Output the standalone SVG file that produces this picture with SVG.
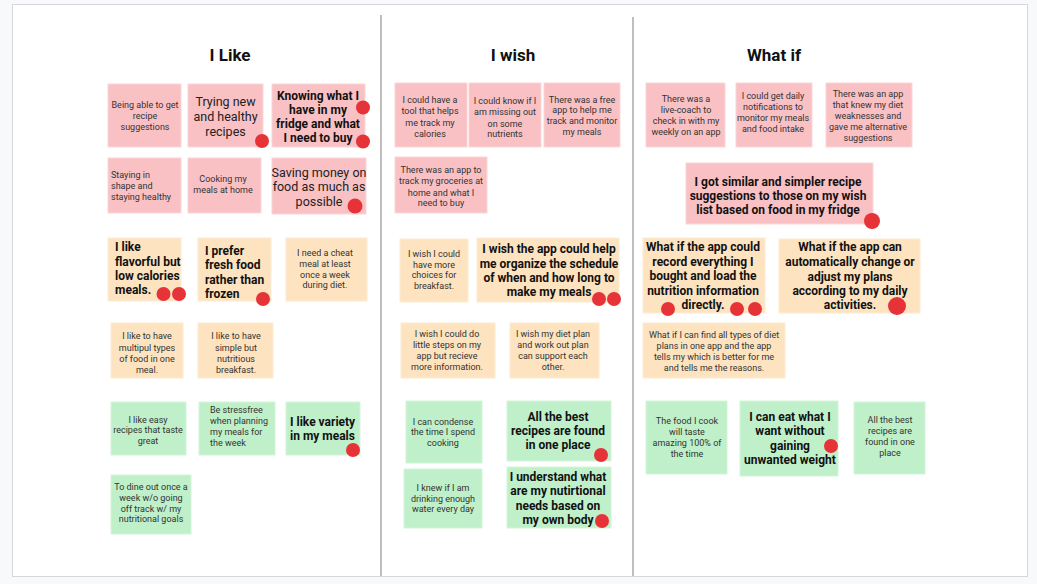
<svg xmlns="http://www.w3.org/2000/svg" width="1037" height="584" viewBox="0 0 1037 584">
<style>
.card{fill:#fff;stroke:#d5d7db;stroke-width:1}
.div{stroke:#a8a8a8;stroke-width:1.5}
.h{font-family:Roboto,"Liberation Sans",sans-serif;font-weight:700;font-size:17px;fill:#111;text-anchor:middle}
.p{fill:#f9c1c4;stroke:#fbd6d8;stroke-width:1}
.o{fill:#fde3bf;stroke:#feecd4;stroke-width:1}
.g{fill:#bff0c9;stroke:#d3f5da;stroke-width:1}
text{font-family:Roboto,"Liberation Sans",sans-serif}
.s{font-size:9px;fill:#333;text-anchor:middle}
.sl{font-size:9px;fill:#333}
.m{font-size:12.5px;fill:#222;text-anchor:middle}
.b{font-size:12px;font-weight:700;fill:#111;text-anchor:middle}
.bl{font-size:12px;font-weight:700;fill:#111}
.dot{fill:#e63338}
</style>
<rect x="0" y="0" width="1037" height="584" fill="#f8f9fa"/>
<rect class="card" x="12.5" y="4.5" width="1015" height="572"/>
<line class="div" x1="381" y1="15" x2="381" y2="576"/>
<line class="div" x1="633" y1="17" x2="633" y2="576"/>
<text class="h" x="230" y="61">I Like</text>
<text class="h" x="513" y="61">I wish</text>
<text class="h" x="774" y="61">What if</text>

<g id="like1"><rect class="p" x="108" y="84" width="73" height="63"/><text class="s"><tspan x="145" y="108">Being able to get</tspan><tspan x="145" y="119">recipe</tspan><tspan x="145" y="130">suggestions</tspan></text></g>
<g id="like2"><rect class="p" x="188" y="84" width="75" height="63"/><text class="m"><tspan x="225.5" y="106">Trying new</tspan><tspan x="225.5" y="121">and healthy</tspan><tspan x="225.5" y="135.5">recipes</tspan></text></g>
<g id="like3"><rect class="p" x="272" y="84" width="93" height="63"/><text class="b"><tspan x="318" y="100">Knowing what I</tspan><tspan x="318" y="114">have in my</tspan><tspan x="318" y="128">fridge and what</tspan><tspan x="318" y="142">I need to buy</tspan></text></g>
<g id="like4"><rect class="p" x="108" y="158" width="73" height="55"/><text class="sl"><tspan x="111" y="177.5">Staying in</tspan><tspan x="111" y="189">shape and</tspan><tspan x="111" y="200">staying healthy</tspan></text></g>
<g id="like5"><rect class="p" x="188" y="158" width="73" height="55"/><text class="s"><tspan x="223" y="182">Cooking my</tspan><tspan x="223" y="193">meals at home</tspan></text></g>
<g id="like6"><rect class="p" x="272" y="158" width="94" height="56"/><text class="m"><tspan x="319" y="177">Saving money on</tspan><tspan x="319" y="191">food as much as</tspan><tspan x="319" y="205.5">possible</tspan></text></g>
<g id="like7"><rect class="o" x="108" y="238" width="73" height="63"/><text class="bl"><tspan x="115" y="251">I like</tspan><tspan x="115" y="265.5">flavorful but</tspan><tspan x="115" y="279.5">low calories</tspan><tspan x="115" y="294">meals.</tspan></text></g>
<g id="like8"><rect class="o" x="198" y="238" width="73" height="63"/><text class="bl"><tspan x="205" y="255">I prefer</tspan><tspan x="205" y="269">fresh food</tspan><tspan x="205" y="283.5">rather than</tspan><tspan x="205" y="297.5">frozen</tspan></text></g>
<g id="like9"><rect class="o" x="286" y="238" width="81" height="63"/><text class="s"><tspan x="325" y="256">I need a cheat</tspan><tspan x="325" y="266.5">meal at least</tspan><tspan x="325" y="277.5">once a week</tspan><tspan x="325" y="288">during diet.</tspan></text></g>
<g id="like10"><rect class="o" x="111" y="323" width="72" height="55"/><text class="s"><tspan x="147" y="339">I like to have</tspan><tspan x="147" y="350.5">multipul types</tspan><tspan x="147" y="361.5">of food in one</tspan><tspan x="147" y="372.5">meal.</tspan></text></g>
<g id="like11"><rect class="o" x="198" y="323" width="75" height="55"/><text class="s"><tspan x="236" y="339">I like to have</tspan><tspan x="236" y="350.5">simple but</tspan><tspan x="236" y="361.5">nutritious</tspan><tspan x="236" y="372.5">breakfast.</tspan></text></g>
<g id="like12"><rect class="g" x="111" y="402" width="75" height="53"/><text class="s"><tspan x="148" y="422.5">I like easy</tspan><tspan x="148" y="433">recipes that taste</tspan><tspan x="148" y="444">great</tspan></text></g>
<g id="like13"><rect class="g" x="199" y="402" width="76" height="53"/><text class="sl"><tspan x="210" y="413">Be stressfree</tspan><tspan x="210" y="424">when planning</tspan><tspan x="210" y="435">my meals for</tspan><tspan x="210" y="446">the week</tspan></text></g>
<g id="like14"><rect class="g" x="286" y="402" width="74" height="53"/><text class="bl"><tspan x="290" y="426">I like variety</tspan><tspan x="290" y="439.5">in my meals</tspan></text></g>
<g id="like15"><rect class="g" x="111" y="475" width="80" height="59"/><text class="s"><tspan x="151" y="490">To dine out once a</tspan><tspan x="151" y="500.5">week w/o going</tspan><tspan x="151" y="511.5">off track w/ my</tspan><tspan x="151" y="522">nutritional goals</tspan></text></g>

<g id="wish1"><rect class="p" x="395" y="83" width="72" height="64"/><text class="s"><tspan x="430" y="103">I could have a</tspan><tspan x="430" y="114">tool that helps</tspan><tspan x="430" y="125.5">me track my</tspan><tspan x="430" y="136.5">calories</tspan></text></g>
<g id="wish2"><rect class="p" x="469" y="83" width="72" height="64"/><text class="s"><tspan x="505" y="104">I could know if I</tspan><tspan x="505" y="115">am missing out</tspan><tspan x="505" y="126.5">on some</tspan><tspan x="505" y="137">nutrients</tspan></text></g>
<g id="wish3"><rect class="p" x="544" y="83" width="76" height="64"/><text class="s"><tspan x="582" y="102.5">There was a free</tspan><tspan x="582" y="113">app to help me</tspan><tspan x="582" y="124">track and monitor</tspan><tspan x="582" y="135">my meals</tspan></text></g>
<g id="wish4"><rect class="p" x="395" y="157" width="92" height="56"/><text class="s"><tspan x="441" y="173">There was an app to</tspan><tspan x="441" y="184">track my groceries at</tspan><tspan x="441" y="195.5">home and what I</tspan><tspan x="441" y="206">need to buy</tspan></text></g>
<g id="wish5"><rect class="o" x="400" y="239" width="68" height="63"/><text class="s"><tspan x="434" y="257">I wish I could</tspan><tspan x="434" y="267.5">have more</tspan><tspan x="434" y="278">choices for</tspan><tspan x="434" y="289">breakfast.</tspan></text></g>
<g id="wish6"><rect class="o" x="477" y="238" width="142" height="64"/><text class="b"><tspan x="549" y="252.5">I wish the app could help</tspan><tspan x="549" y="267.5">me organize the schedule</tspan><tspan x="549" y="281.5">of when and how long to</tspan><tspan x="549" y="296">make my meals</tspan></text></g>
<g id="wish7"><rect class="o" x="401" y="323" width="94" height="55"/><text class="s"><tspan x="447" y="337">I wish I could do</tspan><tspan x="447" y="348">little steps on my</tspan><tspan x="447" y="359">app but recieve</tspan><tspan x="447" y="370">more information.</tspan></text></g>
<g id="wish8"><rect class="o" x="510" y="323" width="89" height="55"/><text class="s"><tspan x="553" y="337">I wish my diet plan</tspan><tspan x="553" y="348">and work out plan</tspan><tspan x="553" y="359">can support each</tspan><tspan x="553" y="370">other.</tspan></text></g>
<g id="wish9"><rect class="g" x="406" y="401" width="76" height="62"/><text class="s"><tspan x="443" y="425">I can condense</tspan><tspan x="443" y="435">the time I spend</tspan><tspan x="443" y="446">cooking</tspan></text></g>
<g id="wish10"><rect class="g" x="507" y="401" width="104" height="60"/><text class="b"><tspan x="558" y="420.5">All the best</tspan><tspan x="558" y="434.5">recipes are found</tspan><tspan x="558" y="448.5">in one place</tspan></text></g>
<g id="wish11"><rect class="g" x="404" y="469" width="78" height="59"/><text class="s"><tspan x="443" y="491">I knew if I am</tspan><tspan x="443" y="501.5">drinking enough</tspan><tspan x="443" y="511.5">water every day</tspan></text></g>
<g id="wish12"><rect class="g" x="507" y="467" width="104" height="61"/><text class="b"><tspan x="558" y="480.5">I understand what</tspan><tspan x="558" y="494.5">are my nutirtional</tspan><tspan x="558" y="509.5">needs based on</tspan><tspan x="558" y="523.5">my own body</tspan></text></g>

<g id="whatif1"><rect class="p" x="646" y="83" width="79" height="64"/><text class="s"><tspan x="686" y="102">There was a</tspan><tspan x="686" y="112.5">live-coach to</tspan><tspan x="686" y="124">check in with my</tspan><tspan x="686" y="135">weekly on an app</tspan></text></g>
<g id="whatif2"><rect class="p" x="736" y="83" width="76" height="64"/><text class="s"><tspan x="773" y="99">I could get daily</tspan><tspan x="773" y="110">notifications to</tspan><tspan x="773" y="120.5">monitor my meals</tspan><tspan x="773" y="131.5">and food intake</tspan></text></g>
<g id="whatif3"><rect class="p" x="826" y="83" width="86" height="64"/><text class="s"><tspan x="868" y="97">There was an app</tspan><tspan x="868" y="108">that knew my diet</tspan><tspan x="868" y="119">weaknesses and</tspan><tspan x="868" y="130">gave me alternative</tspan><tspan x="868" y="140.5">suggestions</tspan></text></g>
<g id="whatif4"><rect class="p" x="686" y="163" width="187" height="61"/><text class="b"><tspan x="778" y="186">I got similar and simpler recipe</tspan><tspan x="778" y="199.5">suggestions to those on my wish</tspan><tspan x="778" y="213.5">list based on food in my fridge</tspan></text></g>
<g id="whatif5"><rect class="o" x="643" y="238" width="122" height="75"/><text class="b"><tspan x="703" y="251">What if the app could</tspan><tspan x="703" y="266">record everything I</tspan><tspan x="703" y="280">bought and load the</tspan><tspan x="703" y="295">nutrition information</tspan><tspan x="703" y="308.5">directly.</tspan></text></g>
<g id="whatif6"><rect class="o" x="779" y="239" width="141" height="74"/><text class="b"><tspan x="850" y="251">What if the app can</tspan><tspan x="850" y="266">automatically change or</tspan><tspan x="850" y="280.5">adjust my plans</tspan><tspan x="850" y="295">according to my daily</tspan><tspan x="850" y="309">activities.</tspan></text></g>
<g id="whatif7"><rect class="o" x="643" y="323" width="142" height="55"/><text class="s"><tspan x="714" y="338">What if I can find all types of diet</tspan><tspan x="714" y="349">plans in one app and the app</tspan><tspan x="714" y="360">tells my which is better for me</tspan><tspan x="714" y="371">and tells me the reasons.</tspan></text></g>
<g id="whatif8"><rect class="g" x="646" y="401" width="81" height="73"/><text class="s"><tspan x="687" y="424">The food I cook</tspan><tspan x="687" y="435">will taste</tspan><tspan x="687" y="446">amazing 100% of</tspan><tspan x="687" y="456.5">the time</tspan></text></g>
<g id="whatif9"><rect class="g" x="740" y="401" width="98" height="75"/><text class="b"><tspan x="790" y="420.5">I can eat what I</tspan><tspan x="790" y="435">want without</tspan><tspan x="790" y="449.5">gaining</tspan><tspan x="790" y="464">unwanted weight</tspan></text></g>
<g id="whatif10"><rect class="g" x="854" y="402" width="71" height="72"/><text class="s"><tspan x="890" y="423">All the best</tspan><tspan x="890" y="434">recipes are</tspan><tspan x="890" y="445">found in one</tspan><tspan x="890" y="455.5">place</tspan></text></g>

<g id="votes">
<circle class="dot" cx="262" cy="141" r="7"/>
<circle class="dot" cx="363" cy="107.5" r="7"/>
<circle class="dot" cx="363" cy="141.5" r="7"/>
<circle class="dot" cx="355" cy="206" r="7.5"/>
<circle class="dot" cx="163.5" cy="294" r="7"/>
<circle class="dot" cx="179" cy="294" r="7"/>
<circle class="dot" cx="263" cy="299" r="7"/>
<circle class="dot" cx="353" cy="450" r="7"/>
<circle class="dot" cx="599" cy="299" r="7"/>
<circle class="dot" cx="614" cy="299" r="7"/>
<circle class="dot" cx="601" cy="455" r="7"/>
<circle class="dot" cx="602" cy="521" r="7"/>
<circle class="dot" cx="872" cy="221" r="8"/>
<circle class="dot" cx="668" cy="309" r="7"/>
<circle class="dot" cx="737" cy="309" r="7"/>
<circle class="dot" cx="755" cy="309" r="7"/>
<circle class="dot" cx="897" cy="306" r="9"/>
<circle class="dot" cx="831" cy="446" r="7"/>
</g>
</svg>
